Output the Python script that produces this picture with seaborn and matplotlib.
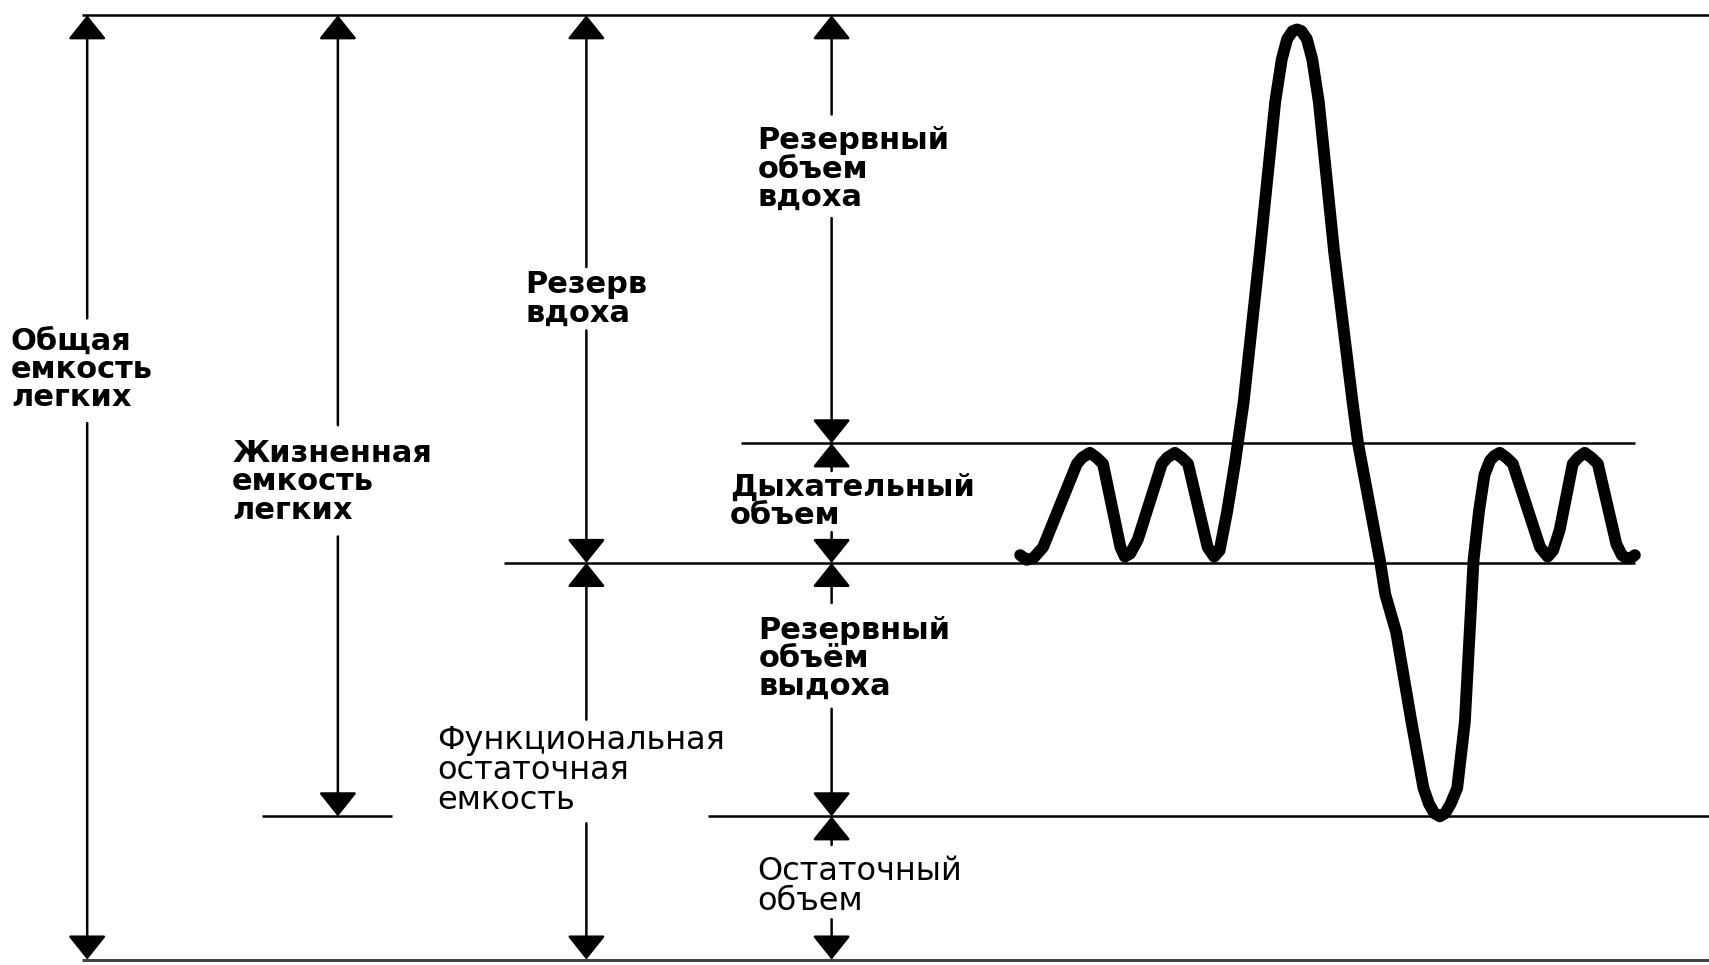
import matplotlib
matplotlib.use("Agg")
import matplotlib.pyplot as plt
import seaborn as sns

# ---------------- data ----------------
# lung volume levels (litres)
tlc = 6.0          # total lung capacity (max inspiration)
tidal_top = 3.28   # end of quiet inspiration
frc = 2.52         # functional residual capacity (end of quiet expiration)
rv = 0.91          # residual volume
zero = 0.0

# spirogram trace: time (arbitrary units) and volume (litres)
trace_t = [936, 942, 948, 957, 988, 993, 1000, 1006, 1012, 1028, 1032, 1037,
           1044, 1066, 1071, 1078, 1084, 1090, 1108, 1114, 1119, 1126, 1133,
           1141, 1156, 1170, 1176, 1181, 1186, 1190, 1194, 1199, 1204, 1210,
           1224, 1241, 1246, 1256, 1266, 1271, 1281, 1295, 1306, 1311, 1316,
           1321, 1326, 1331, 1337, 1344, 1352, 1357, 1362, 1367, 1371, 1376,
           1382, 1388, 1413, 1420, 1425, 1431, 1443, 1448, 1454, 1460, 1466,
           1483, 1488, 1492, 1496, 1500]
trace_v = [2.57, 2.54, 2.55, 2.62, 3.15, 3.19, 3.22, 3.19, 3.15, 2.62, 2.56, 2.58,
           2.67, 3.15, 3.19, 3.22, 3.19, 3.15, 2.62, 2.56, 2.60, 2.85, 3.15,
           3.54, 4.50, 5.45, 5.72, 5.85, 5.90, 5.91, 5.90, 5.85, 5.72, 5.45,
           4.50, 3.54, 3.28, 2.91, 2.54, 2.32, 2.08, 1.51, 1.09, 0.99, 0.93,
           0.91, 0.93, 0.99, 1.09, 1.51, 2.54, 2.85, 3.08, 3.17, 3.20, 3.22,
           3.19, 3.15, 2.62, 2.56, 2.60, 2.73, 3.15, 3.19, 3.22, 3.19, 3.15,
           2.64, 2.57, 2.55, 2.55, 2.57]

labels = {
    "tlc": "Общая\nемкость\nлегких",
    "vc": "Жизненная\nемкость\nлегких",
    "irc": "Резерв\nвдоха",
    "irv": "Резервный\nобъем\nвдоха",
    "tv": "Дыхательный\nобъем",
    "erv": "Резервный\nобъём\nвыдоха",
    "frc": "Функциональная\nостаточная\nемкость",
    "rv": "Остаточный\nобъем",
}

# ---------------- layout helpers ----------------
PX_PER_L = 144.33
def vy(py):
    """convert a layout position (px from top, 885-high canvas) to litres"""
    return (880 - py) / PX_PER_L

sns.set_theme(style="white")
plt.rcParams["font.family"] = ["DejaVu Sans"]

fig = plt.figure(figsize=(17.09, 9.65), dpi=100)
ax = fig.add_axes([0, 0, 1, 1])
ax.set_xlim(0, 1568)
ax.set_ylim(vy(885), vy(0))
ax.axis("off")
fig.patch.set_facecolor("white")

# horizontal level lines
hl = dict(color="black", lw=1.8)
ax.hlines(tlc, 75, 1568, **hl)
ax.hlines(tidal_top, 680, 1500, **hl)
ax.hlines(frc, 462, 1500, **hl)
ax.hlines(rv, 240, 360, **hl)
ax.hlines(rv, 650, 1568, **hl)
ax.hlines(zero, 75, 1568, color="#444444", lw=2.2)

# spirogram
sns.lineplot(x=trace_t, y=trace_v, sort=False, color="black", linewidth=8.5,
             ax=ax, legend=False)
for l in ax.lines:
    l.set_solid_joinstyle("round")
    l.set_solid_capstyle("round")

# arrows
def arrow(x, v_tail, v_head):
    ax.annotate("", xy=(x, v_head), xytext=(x, v_tail),
                arrowprops=dict(arrowstyle="-|>,head_length=0.75,head_width=0.6",
                                mutation_scale=20, lw=1.8, color="black",
                                shrinkA=0, shrinkB=0))

# column 1: total lung capacity
arrow(80, vy(292), tlc)
arrow(80, vy(388), zero)
# column 2: vital capacity
arrow(310, vy(390), tlc)
arrow(310, vy(492), rv)
# column 3: inspiratory capacity / FRC
arrow(538, vy(245), tlc)
arrow(538, vy(303), frc)
arrow(538, vy(660), frc)
arrow(538, vy(755), zero)
# column 4: IRV / TV / ERV / RV
arrow(763, vy(105), tlc)
arrow(763, vy(200), tidal_top)
arrow(763, vy(432), tidal_top)
arrow(763, vy(488), frc)
arrow(763, vy(553), frc)
arrow(763, vy(650), rv)
arrow(763, vy(775), rv)
arrow(763, vy(843), zero)

# labels
def label(key, x, py, weight="bold", size=22):
    ax.text(x, vy(py), labels[key], ha="left", va="center", fontsize=size,
            fontweight=weight, color="black", linespacing=0.96)

label("tlc", 10, 339)
label("vc", 213, 442)
label("irc", 482, 274)
label("irv", 695, 155)
label("tv", 670, 460)
label("erv", 696, 604)
label("frc", 401, 707, weight="normal", size=23)
label("rv", 695, 813, weight="normal", size=23)

fig.savefig("out.png", dpi=100, facecolor="white")
